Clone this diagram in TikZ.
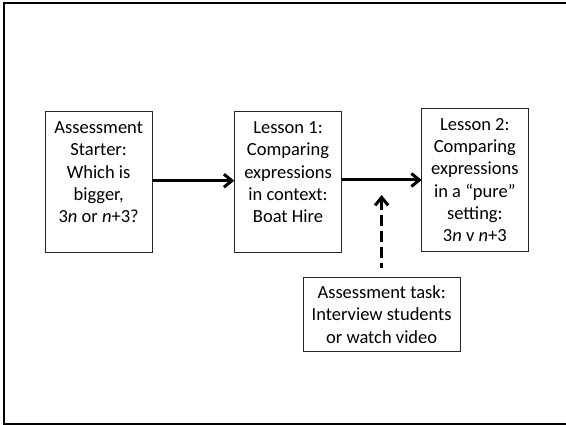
\documentclass[tikz,border=0pt]{standalone}
\usepackage{fontspec}
\setmainfont{Carlito}
\usetikzlibrary{arrows.meta}

\tikzset{
  stagebox/.style={draw=black!85, line width=1pt, fill=white, inner sep=0pt, outer sep=0pt},
  boxtext/.style={anchor=base, inner sep=0pt, font=\fontsize{18.5pt}{22.3pt}\selectfont},
  flow/.style={line width=3pt, -{Straight Barb[length=8pt,width=13pt,line width=3pt]}},
  feed/.style={line width=3pt, dash pattern=on 11pt off 5pt,
               {Straight Barb[length=8pt,width=13pt,line width=3pt]}-},
}

\newcommand{\boxlines}[2]{\parbox[t]{#1}{\centering #2}}

\begin{document}
\begin{tikzpicture}[x=1pt, y=-1pt]
  \useasboundingbox (0,0) rectangle (566,425);

  % outer frame
  \draw[line width=2.2pt] (4,3) rectangle (566.6,424.4);

  % stages
  \node[stagebox, minimum width=107.3pt, minimum height=141pt] (s) at (98.65,182.2) {};
  \node[stagebox, minimum width=107.4pt, minimum height=141.3pt] (l1) at (288,182.3) {};
  \node[stagebox, minimum width=106.3pt, minimum height=143.4pt] (l2) at (474.85,180) {};
  \node[stagebox, minimum width=156.7pt, minimum height=74pt] (task) at (381.65,314.7) {};

  % texts, first baseline set below the top edge
  \node[boxtext] (st) at ([yshift=-22pt]s.north)
    {\boxlines{105pt}{Assessment\\Starter:\\Which is\\bigger,\\3\textit{n} or \textit{n}+3?}};
  \node[boxtext] (l1t) at ([yshift=-22pt]l1.north)
    {\boxlines{105pt}{Lesson 1:\\Comparing\\expressions\\in context:\\Boat Hire}};
  \node[boxtext] (l2t) at ([yshift=-22pt]l2.north)
    {\boxlines{105pt}{Lesson 2:\\Comparing\\expressions\\in a “pure”\\setting:\\3\textit{n} v \textit{n}+3}};
  \node[boxtext] (taskt) at ([yshift=-21pt]task.north)
    {\boxlines{155pt}{Assessment task:\\Interview students\\or watch video}};

  % connectors
  \draw[flow] ([yshift=1.5pt]s.east) -- ([yshift=1.5pt]s.east -| l1.west);
  \draw[flow] (l1.east |- l2.west) -- (l2.west);

  \coordinate (feedtip) at (381.65,195);
  \draw[feed, shorten >=9.7pt] (feedtip) -- (task.north);
\end{tikzpicture}
\end{document}
